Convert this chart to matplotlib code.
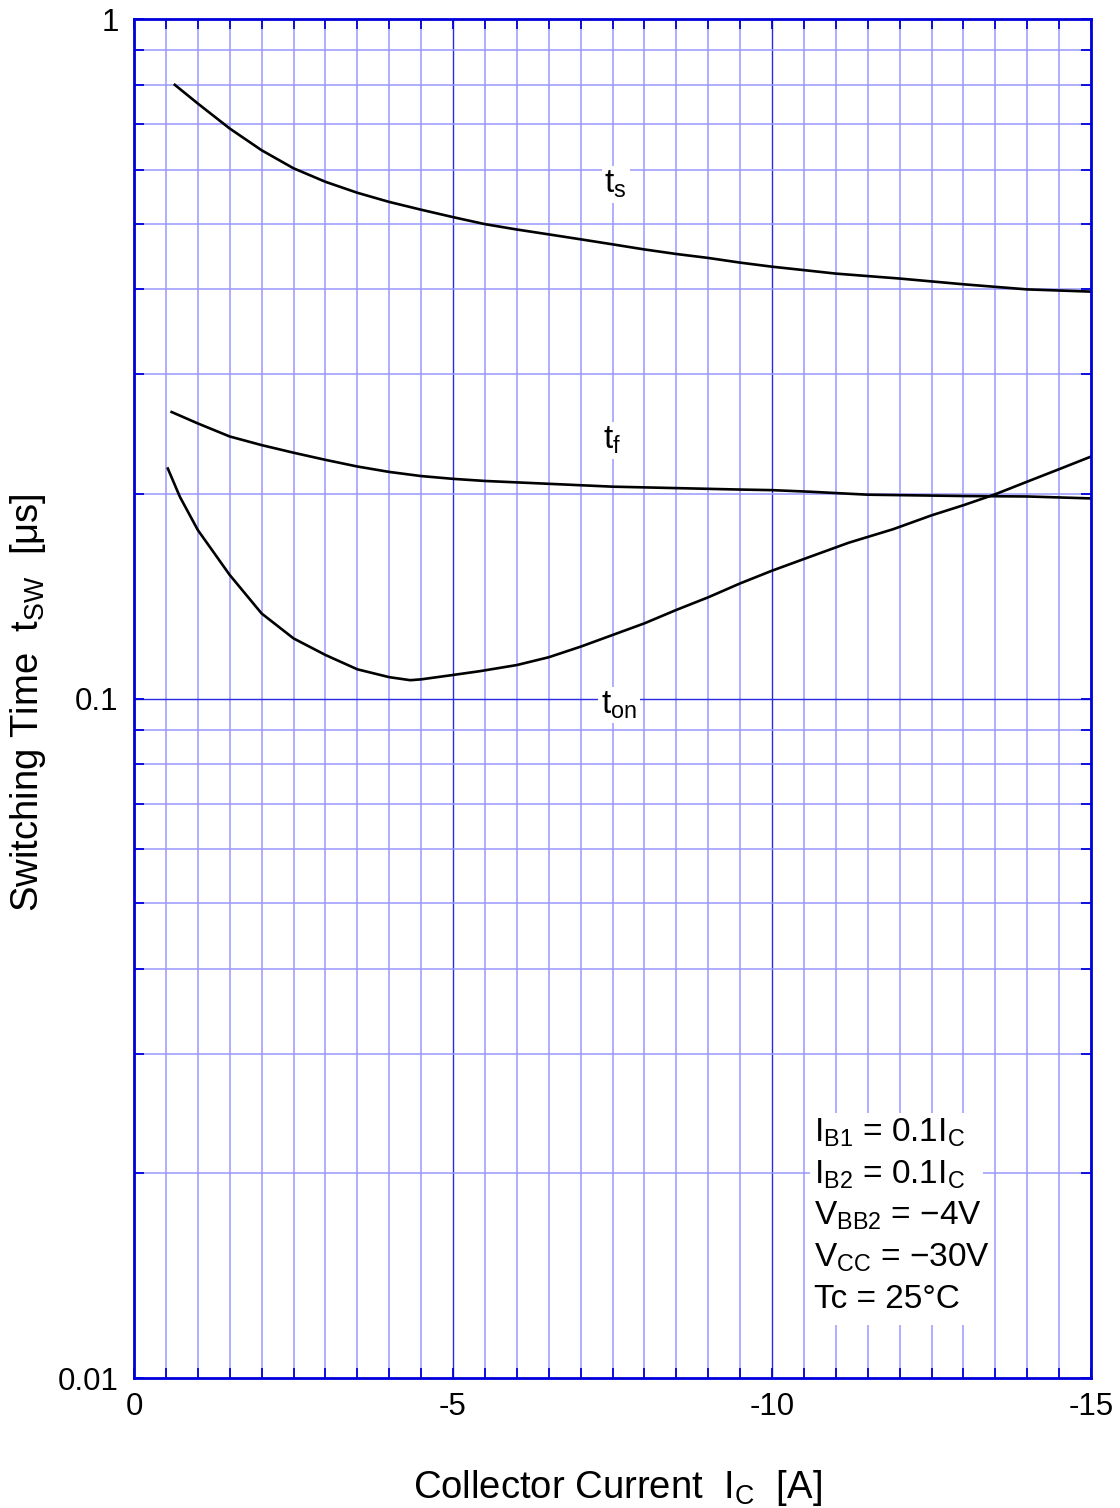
import matplotlib
matplotlib.use("Agg")
import matplotlib.pyplot as plt
from matplotlib.patches import Rectangle
import numpy as np

plt.rcParams['font.family'] = ['Liberation Sans', 'DejaVu Sans']
plt.rcParams['mathtext.fontset'] = 'custom'
plt.rcParams['mathtext.rm'] = 'Liberation Sans'
plt.rcParams['mathtext.it'] = 'Liberation Sans'
plt.rcParams['axes.unicode_minus'] = False

# curves
ic_ts = [-0.64, -1.0, -1.5, -2.0, -2.5, -3.0, -3.5, -4.0, -4.5, -5.0, -5.5, -6.0, -6.5,
         -7.0, -7.5, -8.0, -8.5, -9.0, -9.5, -10.0, -10.5, -11.0, -12.0, -13.0, -14.0, -15.0]
ts = [0.80, 0.751, 0.690, 0.641, 0.603, 0.576, 0.555, 0.538, 0.524, 0.511, 0.499, 0.490, 0.482,
      0.474, 0.466, 0.458, 0.451, 0.445, 0.438, 0.432, 0.427, 0.422, 0.415, 0.407, 0.400, 0.397]

ic_tf = [-0.59, -1.0, -1.5, -2.0, -2.5, -3.0, -3.5, -4.0, -4.5, -5.0, -5.5, -6.5, -7.5,
         -8.5, -9.5, -10.0, -10.6, -11.5, -13.0, -14.0, -15.0]
tf = [0.264, 0.254, 0.243, 0.236, 0.230, 0.2245, 0.2195, 0.2155, 0.2125, 0.2105, 0.209, 0.207, 0.205,
      0.204, 0.203, 0.2026, 0.2015, 0.1995, 0.1986, 0.1983, 0.197]

ic_ton = [-0.53, -0.72, -1.0, -1.5, -2.0, -2.5, -3.0, -3.5, -4.0, -4.33, -4.5, -5.0, -5.42,
          -6.0, -6.5, -7.0, -7.5, -8.0, -8.5, -9.0, -9.5, -10.0, -10.6, -11.2, -11.9,
          -12.5, -13.0, -13.5, -14.0, -14.5, -15.0]
ton = [0.218, 0.198, 0.177, 0.152, 0.1334, 0.1226, 0.1159, 0.1104, 0.1075, 0.1064, 0.1067, 0.1083, 0.1097,
       0.1120, 0.1150, 0.1192, 0.1240, 0.1290, 0.1350, 0.1409, 0.1477, 0.1542, 0.1617, 0.1695, 0.1775,
       0.1860, 0.1925, 0.1998, 0.2085, 0.2175, 0.227]

x_ticks = [0, -5, -10, -15]
x_ticklabels = ['0', '-5', '-10', '-15']
y_ticks = [0.01, 0.1, 1]
y_ticklabels = ['0.01', '0.1', '1']

conditions = [r'I$_\mathrm{B1}$ = 0.1I$_\mathrm{C}$',
              r'I$_\mathrm{B2}$ = 0.1I$_\mathrm{C}$',
              r'V$_\mathrm{BB2}$ = −4V',
              r'V$_\mathrm{CC}$ = −30V',
              'Tc = 25°C']

grid_c = '#9898ff'
major_c = '#2a2ae6'
spine_c = '#0000dd'

fig = plt.figure(figsize=(11.2, 15.08), dpi=100)
ax = fig.add_axes([134 / 1120, 1 - 1378 / 1508, (1091 - 134) / 1120, (1378 - 19) / 1508])
ax.set_yscale('log')
ax.set_xlim(0, -15)
ax.set_ylim(0.01, 1)

# grid
for x in np.arange(0, -15.01, -0.5):
    major = abs(x % 5) < 1e-9
    ax.axvline(x, color=major_c if major else grid_c, lw=1.0 if major else 1.1, zorder=1)
for dec in [0.01, 0.1]:
    for m in range(1, 10):
        y = dec * m
        if y in (0.01,):
            continue
        ax.axhline(y, color=major_c if m == 1 else grid_c, lw=1.0 if m == 1 else 1.1, zorder=1)

ax.set_xticks(x_ticks)
ax.set_xticklabels(x_ticklabels)
ax.set_xticks(np.arange(0, -15.01, -0.5), minor=True)
ax.set_yticks(y_ticks)
ax.set_yticklabels(y_ticklabels)
ax.yaxis.set_minor_locator(matplotlib.ticker.LogLocator(base=10, subs=np.arange(2, 10)))
ax.yaxis.set_minor_formatter(matplotlib.ticker.NullFormatter())
ax.tick_params(which='both', direction='in', top=True, right=True, color=spine_c,
               length=7, width=1.3, labelsize=22.5, pad=11)
ax.tick_params(axis='x', which='major', pad=10)
for s in ax.spines.values():
    s.set_color(spine_c)
    s.set_linewidth(2.0)
    s.set_zorder(5)

ax.plot(ic_ts, ts, color='black', lw=1.9, zorder=3)
ax.plot(ic_tf, tf, color='black', lw=1.9, zorder=3)
ax.plot(ic_ton, ton, color='black', lw=1.9, zorder=3)

box = dict(facecolor='white', edgecolor='none', pad=2)
ax.text(-7.55, 0.571, r't$_\mathrm{s}$', fontsize=24, ha='center', va='center', bbox=box, zorder=4)
ax.text(-7.5, 0.240, r't$_\mathrm{f}$', fontsize=24, ha='center', va='center', bbox=box, zorder=4)
ax.text(-7.6, 0.0978, r't$_\mathrm{on}$', fontsize=24, ha='center', va='center', bbox=box, zorder=4)

ax.add_patch(Rectangle(((810 - 134) / 957, (1378 - 1325) / 1359), 173 / 957, 212 / 1359,
                       transform=ax.transAxes, facecolor='white', edgecolor='none', zorder=2))
for i, t in enumerate(conditions):
    ax.text((814 - 134) / 957, (1378 - 1133 - 41.5 * i) / 1359, t, fontsize=24,
            ha='left', va='center', transform=ax.transAxes, zorder=4)

fig.text(618 / 1120, 1 - 1488 / 1508, r'Collector Current  I$_\mathrm{C}$  [A]', fontsize=27.5,
         ha='center', va='center')
fig.text(28 / 1120, 1 - 703 / 1508, r'Switching Time  t$_\mathrm{SW}$  [μs]', fontsize=27.5,
         ha='center', va='center', rotation=90)

fig.savefig('out.png', dpi=100)
